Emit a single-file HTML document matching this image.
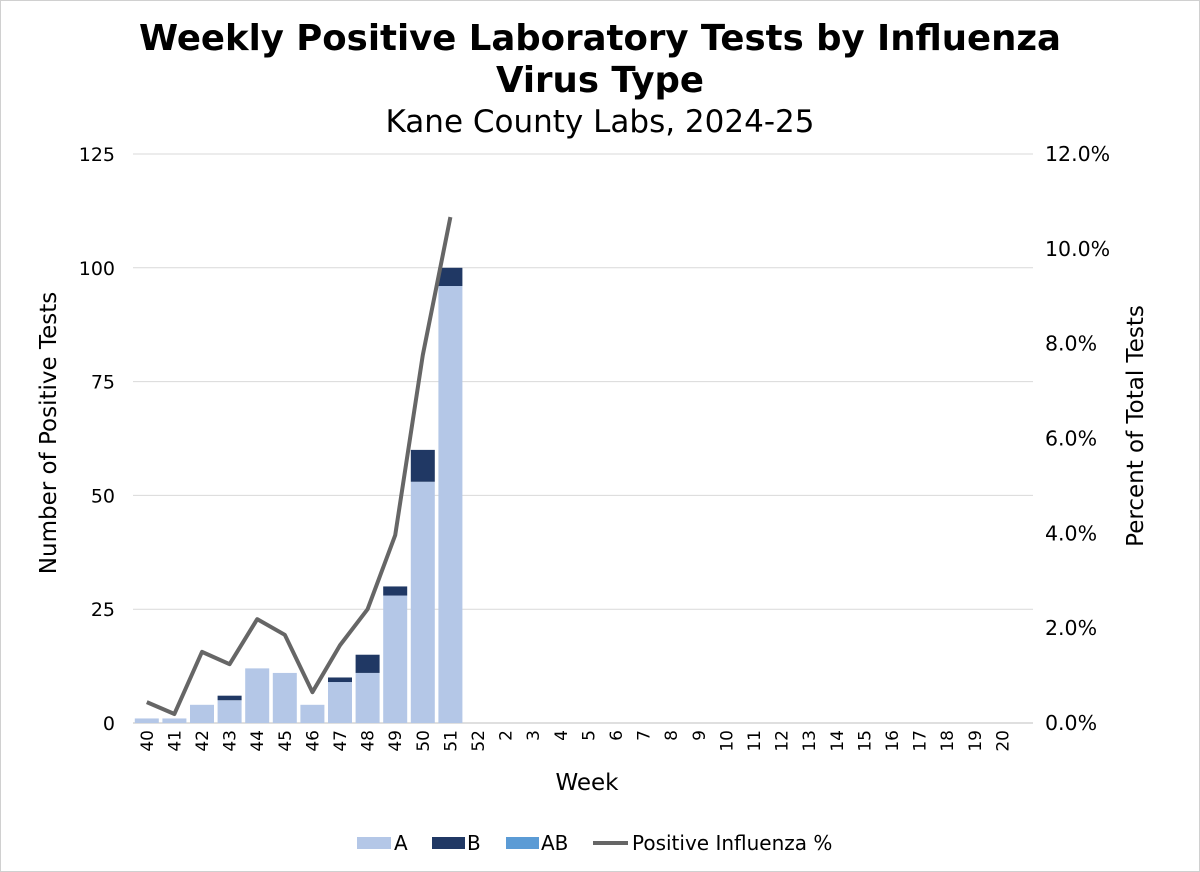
<!DOCTYPE html>
<html><head><meta charset="utf-8"><style>
body{margin:0;background:#fff}
svg{display:block;font-family:"DejaVu Sans","Liberation Sans",sans-serif}
</style></head><body>
<svg id="chart" width="1200" height="872" xmlns="http://www.w3.org/2000/svg">
<rect x="0.5" y="0.5" width="1199" height="871" fill="#fff" stroke="#d0d0d0"/>
<text x="600" y="50" text-anchor="middle" font-size="35.5" font-weight="bold" fill="#000">Weekly Positive Laboratory Tests by Influenza</text>
<text x="600" y="92" text-anchor="middle" font-size="35.5" font-weight="bold" fill="#000">Virus Type</text>
<text x="600" y="132" text-anchor="middle" font-size="31" fill="#000">Kane County Labs, 2024-25</text>
<g id="grid"></g><g id="bars"></g><g id="line"></g><g id="axes"></g>
<text transform="translate(56,433) rotate(-90)" text-anchor="middle" font-size="23" fill="#000">Number of Positive Tests</text>
<text transform="translate(1143,426) rotate(-90)" text-anchor="middle" font-size="23" fill="#000">Percent of Total Tests</text>
<text x="587" y="790" text-anchor="middle" font-size="23" fill="#000">Week</text>
<g font-size="20" fill="#000">
<rect x="357" y="837" width="34" height="12" fill="#b4c7e7"/>
<text x="394" y="850">A</text>
<rect x="432" y="837" width="33" height="12" fill="#203864"/>
<text x="467" y="850">B</text>
<rect x="506" y="837" width="33" height="12" fill="#5b9bd5"/>
<text x="541" y="850">AB</text>
<line x1="593" y1="843" x2="628" y2="843" stroke="#666" stroke-width="4"/>
<text x="632" y="850">Positive Influenza %</text>
</g>
</svg>
<script>
const weeks=["40","41","42","43","44","45","46","47","48","49","50","51","52","2","3","4","5","6","7","8","9","10","11","12","13","14","15","16","17","18","19","20"];
const seriesA=[1,1,4,5,12,11,4,9,11,28,53,96];
const seriesB=[0,0,0,1,0,0,0,1,4,2,7,4];
const seriesAB=[0,0,0,0,0,0,0,0,0,0,0,0];
const pctPositive=[0.44,0.19,1.5,1.24,2.19,1.86,0.65,1.64,2.4,3.96,7.76,10.67];
const leftTicks=[0,25,50,75,100,125];
const rightTicks=[0,2,4,6,8,10,12];
const NS="http://www.w3.org/2000/svg";
const X0=133,X1=1033,Y0=723,Y1=154;
const bw=27.6;
const y=v=>Y0-(v/125)*(Y0-Y1);
const y2=v=>Y0-(v/12)*(Y0-Y1);
const xc=i=>X0+bw*(i+0.5);
function mk(t,a,p){const e=document.createElementNS(NS,t);for(const k in a)e.setAttribute(k,a[k]);p.appendChild(e);return e;}
const G=document.getElementById('grid'),B=document.getElementById('bars'),L=document.getElementById('line'),A=document.getElementById('axes');
leftTicks.forEach(v=>{
 const l=mk('line',{x1:X0,x2:X1,y1:y(v),y2:y(v),stroke:v===0?'#bfbfbf':'#d9d9d9','stroke-width':1},G);
 
 
 const t=mk('text',{x:115,y:y(v)+7,'text-anchor':'end','font-size':19,fill:'#000'},A);t.textContent=v;
 
 
});
rightTicks.forEach(v=>{
 const t=mk('text',{x:1045,y:y2(v)+7,'font-size':20.5,fill:'#000'},A);t.textContent=v.toFixed(1)+'%';
 
 
});
weeks.forEach((w,i)=>{
 const t=mk('text',{transform:`translate(${xc(i)+6},730) rotate(-90)`,'text-anchor':'end','font-size':17,fill:'#000'},A);t.textContent=w;
 
 
});
const w=24;
seriesA.forEach((a,i)=>{
 const b=seriesB[i],ab=seriesAB[i],x=xc(i)-w/2;
 const r1=mk('rect',{x:x,y:y(a),width:w,height:Y0-y(a),fill:'#b4c7e7'},B);
 
 
 if(b>0){const r2=mk('rect',{x:x,y:y(a+b),width:w,height:y(a)-y(a+b),fill:'#203864'},B);
 
 }
 if(ab>0){const r3=mk('rect',{x:x,y:y(a+b+ab),width:w,height:y(a+b)-y(a+b+ab),fill:'#5b9bd5'},B);
 
 }
});
const pts=pctPositive.map((v,i)=>xc(i)+','+y2(v)).join(' ');
const pl=mk('polyline',{points:pts,fill:'none',stroke:'#666','stroke-width':4,'stroke-linejoin':'round'},L);


</script>
</body></html>
